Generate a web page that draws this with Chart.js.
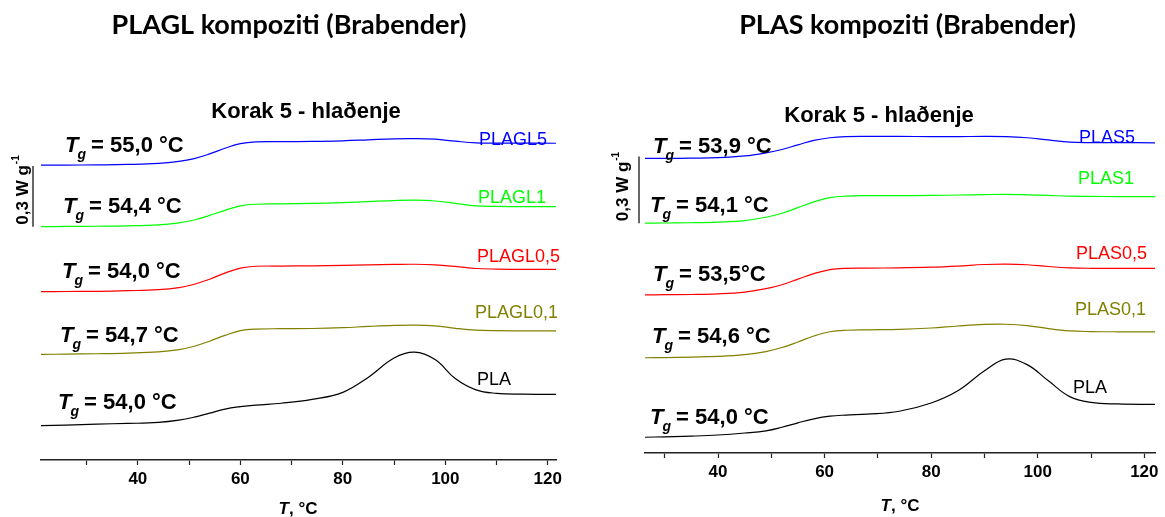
<!DOCTYPE html>
<html>
<head>
<meta charset="utf-8">
<script src="https://cdn.jsdelivr.net/npm/chart.js@4.4.0/dist/chart.umd.min.js"></script>
<style>
  html, body { margin: 0; padding: 0; background: #fff; }
  canvas { position: absolute; top: 0; }
  #plagl { left: 0; }
  #plas { left: 583px; }
</style>
</head>
<body>
<canvas id="plagl" width="583" height="517"></canvas>
<canvas id="plas" width="582" height="517"></canvas>
<script>
// temperature grids, °C
var tempPLAGL = [21.1, 26, 32, 38, 44, 48, 51, 54, 57, 60, 63, 68, 74, 80, 85, 90, 94, 98, 102, 106, 110, 115, 121.6];
var tempPLAS = [26.3, 30, 35, 40, 45, 49, 52, 55, 58, 61, 64, 68, 74, 80, 85, 90, 94, 98, 102, 106, 110, 115, 122];
var xTicks = [30, 40, 50, 60, 70, 80, 90, 100, 110, 120];

// heat flow, W/g (curves shifted apart)
var plaL = [0.170, 0.173, 0.178, 0.181, 0.186, 0.197, 0.212, 0.232, 0.252, 0.264, 0.272, 0.281, 0.300, 0.335, 0.410, 0.505, 0.534, 0.497, 0.402, 0.347, 0.330, 0.326, 0.325];
var plagl01 = [0.523, 0.524, 0.526, 0.529, 0.535, 0.546, 0.563, 0.588, 0.617, 0.640, 0.648, 0.650, 0.651, 0.655, 0.661, 0.666, 0.668, 0.664, 0.652, 0.643, 0.640, 0.639, 0.639];
var plagl05 = [0.833, 0.834, 0.835, 0.838, 0.843, 0.853, 0.870, 0.895, 0.925, 0.950, 0.959, 0.960, 0.961, 0.963, 0.966, 0.968, 0.969, 0.966, 0.958, 0.948, 0.945, 0.944, 0.944];
var plagl1 = [1.155, 1.156, 1.157, 1.159, 1.164, 1.174, 1.188, 1.211, 1.236, 1.258, 1.266, 1.268, 1.270, 1.274, 1.279, 1.284, 1.286, 1.282, 1.270, 1.258, 1.255, 1.254, 1.254];
var plagl5 = [1.460, 1.460, 1.461, 1.463, 1.468, 1.478, 1.492, 1.515, 1.543, 1.566, 1.575, 1.576, 1.577, 1.580, 1.585, 1.590, 1.591, 1.588, 1.578, 1.570, 1.569, 1.569, 1.568];

var plaR = [0.071, 0.073, 0.076, 0.081, 0.090, 0.100, 0.116, 0.136, 0.154, 0.166, 0.171, 0.175, 0.188, 0.225, 0.280, 0.370, 0.423, 0.398, 0.325, 0.254, 0.228, 0.221, 0.219];
var plas01 = [0.429, 0.430, 0.432, 0.435, 0.443, 0.457, 0.475, 0.500, 0.527, 0.546, 0.553, 0.555, 0.557, 0.563, 0.572, 0.579, 0.580, 0.574, 0.560, 0.550, 0.547, 0.546, 0.546];
var plas05 = [0.712, 0.713, 0.714, 0.717, 0.725, 0.740, 0.758, 0.783, 0.808, 0.826, 0.832, 0.833, 0.834, 0.837, 0.842, 0.849, 0.851, 0.848, 0.840, 0.834, 0.832, 0.832, 0.832];
var plas1 = [1.035, 1.036, 1.037, 1.040, 1.047, 1.062, 1.080, 1.105, 1.131, 1.150, 1.157, 1.159, 1.159, 1.160, 1.162, 1.164, 1.165, 1.163, 1.160, 1.157, 1.156, 1.155, 1.155];
var plas5 = [1.327, 1.327, 1.328, 1.330, 1.338, 1.352, 1.367, 1.388, 1.408, 1.420, 1.425, 1.426, 1.426, 1.425, 1.425, 1.426, 1.425, 1.420, 1.410, 1.400, 1.398, 1.398, 1.397];

var namesPLAGL = ['PLA', 'PLAGL0,1', 'PLAGL0,5', 'PLAGL1', 'PLAGL5'];
var namesPLAS = ['PLA', 'PLAS0,1', 'PLAS0,5', 'PLAS1', 'PLAS5'];
var tgPLAGL = ['54,0 °C', '54,7 °C', '54,0 °C', '54,4 °C', '55,0 °C'];
var tgPLAS = ['54,0 °C', '54,6 °C', '53,5°C', '54,1 °C', '53,9 °C'];
var scaleBar = 0.3; // W/g

var colors = ['#000000', '#808000', '#ff0000', '#00ff00', '#0000ff'];
var ff = '"Liberation Sans", Arial, sans-serif';

function drawTg(ctx, x, y, txt) {
    ctx.fillStyle = '#000';
    ctx.font = 'italic bold 22px ' + ff;
    ctx.fillText('T', x, y);
    var w = ctx.measureText('T').width;
    ctx.font = 'italic bold 14px ' + ff;
    ctx.fillText('g', x + w - 1, y + 7);
    var wg = ctx.measureText('g').width;
    ctx.font = 'bold 22px ' + ff;
    ctx.fillText(' = ' + txt, x + w + wg - 2, y);
}

// titles, Tg notes, curve names and the scale bar
var decor = {
    id: 'decor',
    afterDraw: function (chart, args, o) {
        var ctx = chart.ctx, ys = chart.scales.y, area = chart.chartArea;
        ctx.save();
        ctx.textAlign = 'center';
        ctx.textBaseline = 'alphabetic';
        ctx.fillStyle = '#000';
        ctx.font = 'bold 27px Lato, sans-serif';
        ctx.fillText(o.title, o.titleX, 34);
        ctx.font = 'bold 22px ' + ff;
        ctx.fillText('Korak 5 - hlaðenje', o.subX, o.subY);

        // axis title: T, °C
        ctx.textAlign = 'left';
        ctx.font = 'italic bold 17px ' + ff;
        var wT = ctx.measureText('T').width;
        ctx.font = 'bold 17px ' + ff;
        var wR = ctx.measureText(', °C').width;
        var ax = o.axTitleX - (wT + wR) / 2;
        ctx.font = 'italic bold 17px ' + ff;
        ctx.fillText('T', ax, o.axTitleY);
        ctx.font = 'bold 17px ' + ff;
        ctx.fillText(', °C', ax + wT, o.axTitleY);

        chart.data.datasets.forEach(function (ds, i) {
            var first = ds.data[0].y, last = ds.data[ds.data.length - 1].y;
            drawTg(ctx, area.left + o.tgX[i], ys.getPixelForValue(first) - o.tgUp[i], o.tg[i]);
            ctx.font = '18px ' + ff;
            ctx.fillStyle = ds.borderColor;
            ctx.fillText(ds.label, area.left + o.nameX[i], ys.getPixelForValue(last) + o.nameDy[i]);
        });

        // 0,3 W/g bar next to the upper curves
        var base = chart.data.datasets[3].data[0].y;
        var bx = area.left + o.barX;
        var b0 = ys.getPixelForValue(base), b1 = ys.getPixelForValue(base + scaleBar);
        ctx.strokeStyle = '#000';
        ctx.lineWidth = 1.2;
        ctx.beginPath();
        ctx.moveTo(bx, b0);
        ctx.lineTo(bx, b1);
        ctx.stroke();
        ctx.fillStyle = '#000';
        ctx.translate(bx - o.barGap, b0 - 2);
        ctx.rotate(-Math.PI / 2);
        ctx.font = 'bold 17px ' + ff;
        var lbl = String(scaleBar).replace('.', ',') + ' W g';
        ctx.fillText(lbl, 0, 0);
        var wl = ctx.measureText(lbl).width;
        ctx.font = 'bold 10px ' + ff;
        ctx.fillText('-1', wl + 1, -9);
        ctx.restore();
    }
};

function makePanel(id, temps, series, names, lay) {
    var ctx = document.getElementById(id).getContext('2d');
    return new Chart(ctx, {
        type: 'line',
        data: {
            datasets: series.map(function (vals, i) {
                return {
                    label: names[i],
                    data: temps.map(function (t, j) { return { x: t, y: vals[j] }; }),
                    borderColor: colors[i],
                    borderWidth: 1.2,
                    pointRadius: 0,
                    tension: 0.4,
                    fill: false
                };
            })
        },
        options: {
            responsive: false,
            animation: false,
            layout: { padding: { left: lay.left, right: lay.right, top: 100, bottom: 0 } },
            scales: {
                x: {
                    type: 'linear',
                    min: lay.xMin,
                    max: lay.xMax,
                    afterBuildTicks: function (s) {
                        s.ticks = xTicks.map(function (v) { return { value: v }; });
                    },
                    afterFit: function (s) { s.height = lay.axisH; },
                    ticks: {
                        autoSkip: false,
                        maxRotation: 0,
                        padding: 4,
                        color: '#000',
                        font: { family: ff, size: 17, weight: 'bold' },
                        callback: function (v) { return v % 20 === 0 ? String(v) : ''; }
                    },
                    grid: {
                        drawOnChartArea: false,
                        drawTicks: true,
                        tickLength: 5,
                        tickColor: '#222',
                        tickWidth: 1.2
                    },
                    border: { color: '#222', width: 1.6 }
                },
                y: { display: false, min: 0, max: lay.yMax }
            },
            plugins: {
                legend: { display: false },
                tooltip: { enabled: false },
                decor: lay.decor
            }
        },
        plugins: [decor]
    });
}

makePanel('plagl', tempPLAGL, [plaL, plagl01, plagl05, plagl1, plagl5], namesPLAGL, {
    left: 41, right: 27, xMin: 21.1, xMax: 121.6, axisH: 57, yMax: 1.782,
    decor: {
        title: 'PLAGL kompoziti (Brabender)', titleX: 289,
        subX: 306, subY: 118, axTitleX: 298, axTitleY: 514,
        tg: tgPLAGL,
        tgX: [17, 19, 21, 22, 24], tgUp: [17, 12.6, 14, 14, 13],
        nameX: [436, 434, 436, 437, 438], nameDy: [-9.3, -12.7, -7, -3.4, 2],
        barX: -8, barGap: 5
    }
});

makePanel('plas', tempPLAS, [plaR, plas01, plas05, plas1, plas5], namesPLAS, {
    left: 62, right: 10, xMin: 26.3, xMax: 122, axisH: 64, yMax: 1.590,
    decor: {
        title: 'PLAS kompoziti (Brabender)', titleX: 324.5,
        subX: 296, subY: 122, axTitleX: 317, axTitleY: 510.5,
        tg: tgPLAS,
        tgX: [5, 7, 8, 5, 8], tgUp: [13, 15, 14, 11.6, 5.6],
        nameX: [428, 430, 431, 433, 434], nameDy: [-11.6, -16.7, -9, -12.7, 0],
        barX: -6, barGap: 11
    }
});
</script>
</body>
</html>
